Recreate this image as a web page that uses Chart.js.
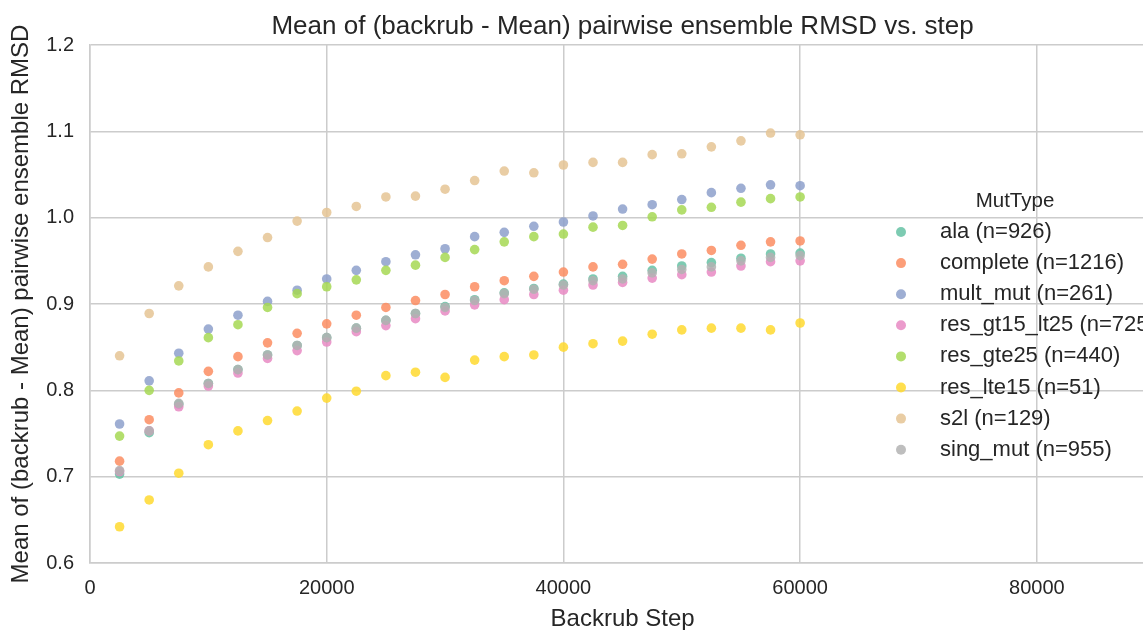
<!DOCTYPE html>
<html>
<head>
<meta charset="utf-8">
<title>Backrub ensemble RMSD</title>
<script src="https://cdn.jsdelivr.net/npm/chart.js@4.4.0/dist/chart.umd.min.js"></script>
<style>
  html, body { margin: 0; padding: 0; background: #fff; overflow: hidden; }
  #wrap { width: 1160px; height: 630px; }
</style>
</head>
<body>
<div id="wrap"><canvas id="rmsdChart" width="1160" height="630"></canvas></div>
<script>
// backrub steps sampled
const steps = [2500, 5000, 7500, 10000, 12500, 15000, 17500, 20000, 22500, 25000, 27500, 30000,
               32500, 35000, 37500, 40000, 42500, 45000, 47500, 50000, 52500, 55000, 57500, 60000];

// axis ticks
const xTicks = [0, 20000, 40000, 60000, 80000];
const yTicks = [0.6, 0.7, 0.8, 0.9, 1.0, 1.1, 1.2];

// mutation types and their counts
const mutTypes = ['ala', 'complete', 'mult_mut', 'res_gt15_lt25', 'res_gte25', 'res_lte15', 's2l', 'sing_mut'];
const mutCounts = [926, 1216, 261, 725, 440, 51, 129, 955];

// mean of (backrub - mean) pairwise ensemble RMSD per step
const ala = [0.703, 0.751, 0.784, 0.808, 0.824, 0.841, 0.852, 0.861, 0.872, 0.881, 0.889, 0.897,
             0.905, 0.913, 0.918, 0.923, 0.929, 0.932, 0.939, 0.944, 0.948, 0.953, 0.958, 0.959];
const complete = [0.718, 0.766, 0.797, 0.822, 0.839, 0.855, 0.866, 0.877, 0.887, 0.896, 0.904, 0.911,
                  0.920, 0.927, 0.932, 0.937, 0.943, 0.946, 0.952, 0.958, 0.962, 0.968, 0.972, 0.973];
const multMut = [0.761, 0.811, 0.843, 0.871, 0.887, 0.903, 0.916, 0.929, 0.939, 0.949, 0.957, 0.964,
                 0.978, 0.983, 0.990, 0.995, 1.002, 1.010, 1.015, 1.021, 1.029, 1.034, 1.038, 1.037];
const resGt15Lt25 = [0.706, 0.753, 0.781, 0.805, 0.820, 0.837, 0.846, 0.856, 0.868, 0.875, 0.883, 0.892,
                     0.899, 0.905, 0.911, 0.916, 0.922, 0.925, 0.930, 0.934, 0.937, 0.944, 0.949, 0.950];
const resGte25 = [0.747, 0.800, 0.834, 0.861, 0.876, 0.896, 0.912, 0.920, 0.928, 0.939, 0.945, 0.954,
                  0.963, 0.972, 0.978, 0.981, 0.989, 0.991, 1.001, 1.009, 1.012, 1.018, 1.022, 1.024];
const resLte15 = [0.642, 0.673, 0.704, 0.737, 0.753, 0.765, 0.776, 0.791, 0.799, 0.817, 0.821, 0.815,
                  0.835, 0.839, 0.841, 0.850, 0.854, 0.857, 0.865, 0.870, 0.872, 0.872, 0.870, 0.878];
const s2l = [0.840, 0.889, 0.921, 0.943, 0.961, 0.977, 0.996, 1.006, 1.013, 1.024, 1.025, 1.033,
             1.043, 1.054, 1.052, 1.061, 1.064, 1.064, 1.073, 1.074, 1.082, 1.089, 1.098, 1.096];
const singMut = [0.707, 0.753, 0.785, 0.808, 0.824, 0.841, 0.852, 0.861, 0.872, 0.881, 0.889, 0.896,
                 0.904, 0.912, 0.917, 0.922, 0.927, 0.929, 0.936, 0.940, 0.943, 0.950, 0.954, 0.956];

const seriesValues = [ala, complete, multMut, resGt15Lt25, resGte25, resLte15, s2l, singMut];

// Set2 palette
const palette = [
    'rgba(102, 194, 165, 0.85)',
    'rgba(252, 141, 98, 0.85)',
    'rgba(141, 160, 203, 0.85)',
    'rgba(231, 138, 195, 0.85)',
    'rgba(166, 216, 84, 0.85)',
    'rgba(255, 217, 47, 0.85)',
    'rgba(229, 196, 148, 0.85)',
    'rgba(179, 179, 179, 0.85)'
];

const FONT = "'Liberation Sans', Arial, Helvetica, sans-serif";
const TEXT = '#262626';
const GRID = '#cccccc';
const chartTitle = 'Mean of (backrub - Mean) pairwise ensemble RMSD vs. step';

Chart.defaults.font.family = FONT;
Chart.defaults.color = TEXT;

const datasets = mutTypes.map((name, i) => ({
    label: `${name} (n=${mutCounts[i]})`,
    data: steps.map((s, j) => ({ x: s, y: seriesValues[i][j] })),
    backgroundColor: palette[i],
    borderWidth: 0,
    pointRadius: 4.8,
    pointHoverRadius: 4.8,
    // later series sit on top
    order: mutTypes.length - i
}));

// title centred over the plot area rather than the whole canvas
const axesTitle = {
    id: 'axesTitle',
    afterDraw(chart) {
        const { ctx, chartArea } = chart;
        ctx.save();
        ctx.font = `26px ${FONT}`;
        ctx.fillStyle = TEXT;
        ctx.textAlign = 'center';
        ctx.textBaseline = 'middle';
        ctx.fillText(chartTitle, (chartArea.left + chartArea.right) / 2, 27);
        ctx.restore();
    }
};

// legend drawn inside the plot, to the right of the points
const mutTypeLegend = {
    id: 'mutTypeLegend',
    afterDraw(chart) {
        const ctx = chart.ctx;
        const x0 = 901, y0 = 232, rowH = 31.1;
        ctx.save();
        ctx.textBaseline = 'middle';
        ctx.fillStyle = TEXT;
        ctx.font = `20.5px ${FONT}`;
        ctx.textAlign = 'center';
        ctx.fillText('MutType', 1015, 201);
        ctx.font = `22px ${FONT}`;
        ctx.textAlign = 'left';
        chart.data.datasets.forEach((ds, i) => {
            const y = y0 + i * rowH;
            ctx.beginPath();
            ctx.arc(x0, y, 5, 0, Math.PI * 2);
            ctx.fillStyle = ds.backgroundColor;
            ctx.fill();
            ctx.fillStyle = TEXT;
            ctx.fillText(ds.label, 940, y);
        });
        ctx.restore();
    }
};

const ctx = document.getElementById('rmsdChart').getContext('2d');
new Chart(ctx, {
    type: 'scatter',
    data: { datasets: datasets },
    options: {
        responsive: false,
        animation: false,
        layout: { padding: { left: 0, right: 4, top: 45, bottom: 0 } },
        plugins: {
            legend: { display: false },
            tooltip: { enabled: false },
            title: { display: false }
        },
        scales: {
            x: {
                type: 'linear',
                min: 0,
                max: 90000,
                afterFit: (scale) => { scale.height = 67; },
                afterBuildTicks: (scale) => {
                    scale.ticks = xTicks.map(v => ({ value: v }));
                },
                ticks: {
                    padding: 13,
                    color: TEXT,
                    font: { size: 20 },
                    callback: (v) => String(v)
                },
                grid: { color: GRID, lineWidth: 1.5, drawTicks: false },
                border: { color: GRID, width: 1.5 },
                title: {
                    display: true,
                    text: 'Backrub Step',
                    color: TEXT,
                    font: { size: 24 },
                    padding: { top: 0, bottom: -4 }
                }
            },
            y: {
                min: 0.6,
                max: 1.2,
                afterFit: (scale) => { scale.width = 90; },
                afterBuildTicks: (scale) => {
                    scale.ticks = yTicks.map(v => ({ value: v }));
                },
                ticks: {
                    padding: 16,
                    color: TEXT,
                    font: { size: 20 },
                    callback: (v) => v.toFixed(1)
                },
                grid: { color: GRID, lineWidth: 1.5, drawTicks: false },
                border: { color: GRID, width: 1.5 },
                title: {
                    display: true,
                    text: 'Mean of (backrub - Mean) pairwise ensemble RMSD',
                    color: TEXT,
                    font: { size: 24 },
                    padding: { top: 7, bottom: 0 }
                }
            }
        }
    },
    plugins: [axesTitle, mutTypeLegend]
});
</script>
</body>
</html>
